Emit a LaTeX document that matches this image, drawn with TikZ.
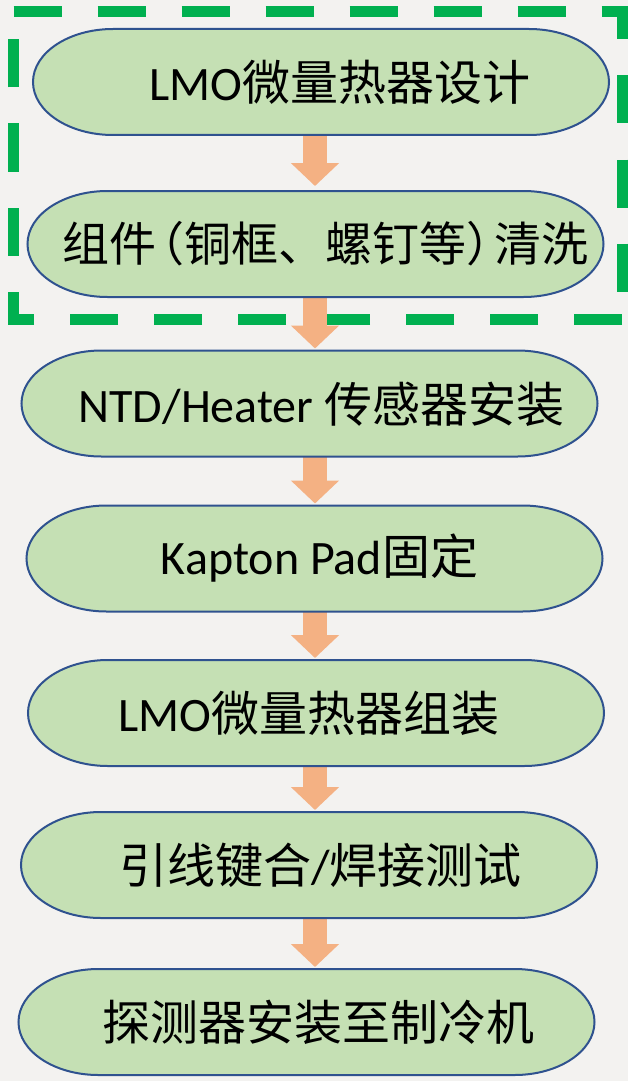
\documentclass[tikz,border=0pt]{standalone}
\usepackage{fontspec}
\setmainfont{Carlito}
\newfontfamily\cjk{Noto Sans CJK SC}
\usetikzlibrary{arrows.meta}
\definecolor{paper}{RGB}{243,242,240}
\definecolor{boxfill}{RGB}{197,224,180}
\definecolor{boxline}{RGB}{47,82,143}
\definecolor{arrowc}{RGB}{244,177,131}
\definecolor{dashgreen}{RGB}{0,176,80}
\tikzset{
  x=0.5pt, y=-0.5pt,
  stepbox/.style={rectangle, draw=none, inner sep=0pt, outer sep=0pt,
    minimum width=288pt, minimum height=53pt},
  stad/.style={fill=boxfill, draw=boxline, line width=1pt},
  flowarrow/.style={draw=arrowc, line width=12pt,
    -{Triangle[length=11.5pt, width=23.5pt, fill=arrowc]}},
  green dash/.style={draw=dashgreen, line width=5.5pt, line join=miter,
    dash pattern=on 24pt off 18pt},
  txt/.style={inner sep=0pt, font=\fontsize{24pt}{28pt}\selectfont},
  txtsmall/.style={inner sep=0pt, font=\fontsize{23.5pt}{27pt}\selectfont},
}
\newcommand\stadium[1]{%
  \draw[stad] ([xshift=40pt]#1.north west) -- ([xshift=-40pt]#1.north east)
    arc[start angle=90, end angle=-90, x radius=40pt, y radius=26.5pt]
    -- ([xshift=40pt]#1.south west)
    arc[start angle=270, end angle=90, x radius=40pt, y radius=26.5pt] -- cycle;}
\begin{document}
\begin{tikzpicture}
\useasboundingbox (0,0) rectangle (628,1081);
\fill[paper] (0,0) rectangle (628,1081);
% step nodes (geometry)
\node[stepbox] (s1) at (321,82) {};
\node[stepbox] (s2) at (315.5,244) {};
\node[stepbox] (s3) at (309.5,403.5) {};
\node[stepbox] (s4) at (314.5,558.5) {};
\node[stepbox] (s5) at (316,713) {};
\node[stepbox] (s6) at (309,865) {};
\node[stepbox] (s7) at (306.5,1022) {};
\coordinate (ax) at (315,0);
% dashed group frame
\coordinate (gtl) at (13.5,12);
\coordinate (gtr) at (622,12);
\coordinate (gbr) at (622,319);
\coordinate (gbl) at (13.5,319);
\draw[green dash] (gtl) -- (gtr) -- (gbr);
\draw[green dash] (gbr) -- (gbl) -- (gtl);
% arrows
\draw[flowarrow] (s1.south -| ax) -- ([yshift=2.5pt]s2.north -| ax);
\draw[flowarrow] (s2.south -| ax) -- ([yshift=1pt]s3.north -| ax);
\draw[flowarrow] (s3.south -| ax) -- ([yshift=1pt]s4.north -| ax);
\draw[flowarrow] (s4.south -| ax) -- ([yshift=1pt]s5.north -| ax);
\draw[flowarrow] (s5.south -| ax) -- ([yshift=1pt]s6.north -| ax);
\draw[flowarrow] (s6.south -| ax) -- ([yshift=1pt]s7.north -| ax);
% shapes
\stadium{s1}\stadium{s2}\stadium{s3}\stadium{s4}\stadium{s5}\stadium{s6}\stadium{s7}
% texts
\node[txt] (t1) at (340,82) {LMO{\cjk 微量热器设计}};
\node[txtsmall] (t2) at (325.5,244) {\cjk 组件\kern-0.4em（铜框、螺钉等）\kern-0.4em 清洗};
\node[txt] (t3) at (321.5,404) {NTD/Heater {\cjk 传感器安装}};
\node[txt] (t4) at (319.5,558) {Kapton Pad{\cjk 固定}};
\node[txt] (t5) at (308.5,713) {LMO{\cjk 微量热器组装}};
\node[txt] (t6) at (320.5,865) {{\cjk 引线键合}/{\cjk 焊接测试}};
\node[txt] (t7) at (318,1022) {\cjk 探测器安装至制冷机};
\end{tikzpicture}
\end{document}
